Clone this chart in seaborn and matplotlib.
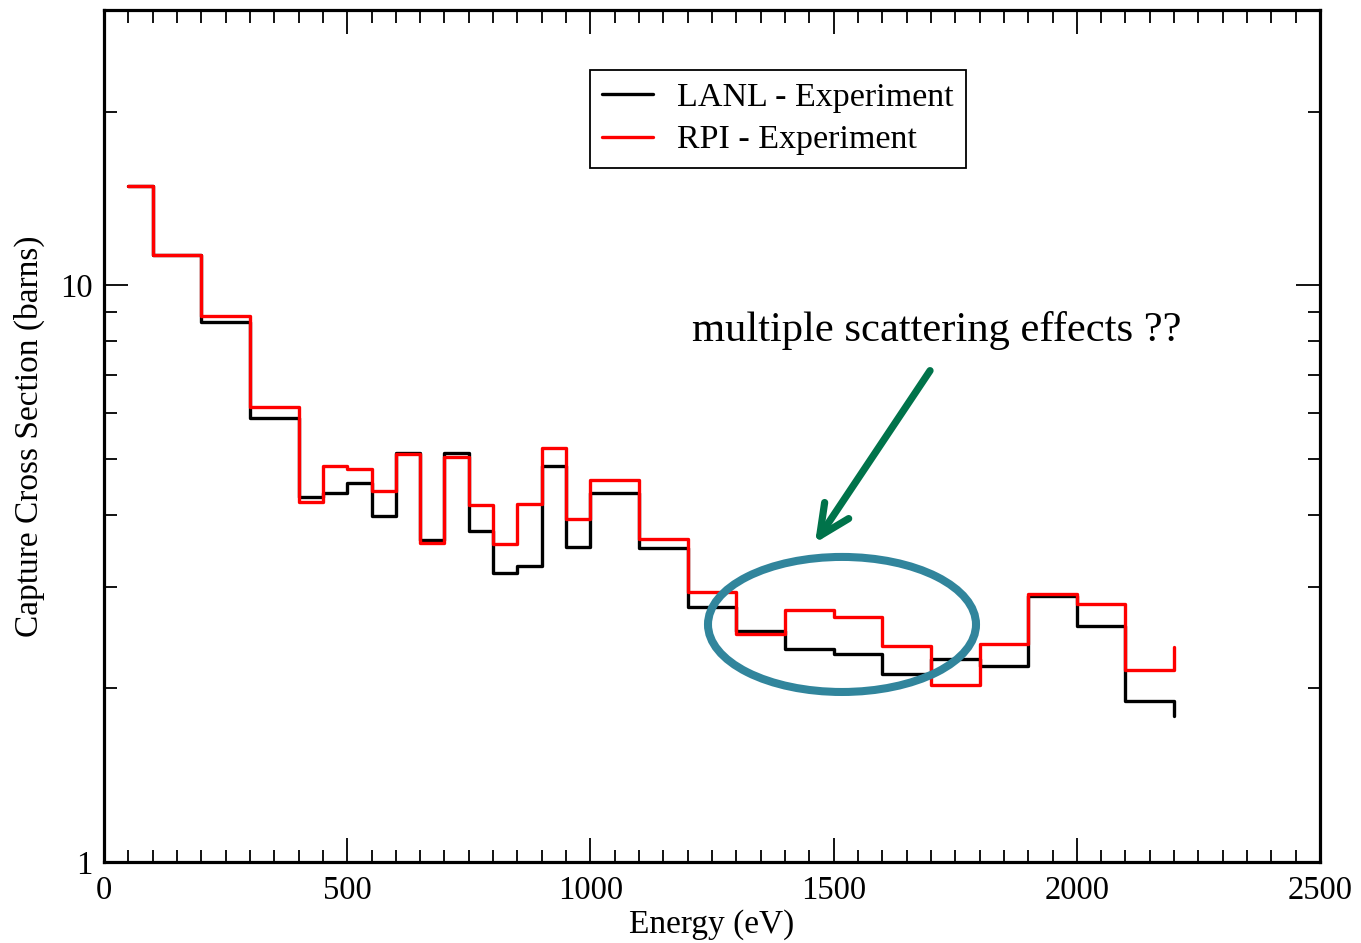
import numpy as np
import pandas as pd
import matplotlib
matplotlib.use("Agg")
import matplotlib.pyplot as plt
from matplotlib.patches import Ellipse
from matplotlib.ticker import FixedLocator, MultipleLocator, NullFormatter, FixedFormatter
import seaborn as sns

# Bin start energies (eV); the last entry closes the final bin
energy = [50, 100, 200, 300, 400, 450, 500, 550, 600, 650, 700, 750, 800, 850,
          900, 950, 1000, 1100, 1200, 1300, 1400, 1500, 1600, 1700, 1800, 1900,
          2000, 2100, 2200]

# Capture cross section (barns)
lanl = [14.85, 11.30, 8.62, 5.89, 4.29, 4.37, 4.54, 3.98, 5.12, 3.61, 5.12, 3.75,
        3.17, 3.26, 4.86, 3.52, 4.37, 3.50, 2.77, 2.51, 2.34, 2.29, 2.12, 2.25,
        2.19, 2.89, 2.57, 1.90, 1.79]
rpi = [14.85, 11.30, 8.84, 6.15, 4.21, 4.86, 4.81, 4.40, 5.09, 3.58, 5.04, 4.16,
       3.56, 4.18, 5.22, 3.93, 4.60, 3.63, 2.94, 2.48, 2.74, 2.66, 2.37, 2.03,
       2.39, 2.92, 2.80, 2.15, 2.36]

series_names = ["LANL - Experiment", "RPI - Experiment"]
series_colors = ["#000000", "#FF0000"]

x_ticks = [0, 500, 1000, 1500, 2000, 2500]
x_tick_labels = ["0", "500", "1000", "1500", "2000", "2500"]
y_ticks = [1, 10]
y_tick_labels = ["1", "10"]
y_minor = [2, 3, 4, 5, 6, 7, 8, 9, 20]

annotation_text = "multiple scattering effects ??"

df = pd.concat([
    pd.DataFrame({"Energy": energy, "Cross": lanl, "Series": series_names[0]}),
    pd.DataFrame({"Energy": energy, "Cross": rpi, "Series": series_names[1]}),
], ignore_index=True)

sns.set_theme(style="ticks")
plt.rcParams["font.family"] = ["Liberation Serif", "DejaVu Serif"]
plt.rcParams["mathtext.fontset"] = "stix"
plt.rcParams["text.color"] = "black"

fig = plt.figure(figsize=(13.61, 9.43), dpi=100)
ax = fig.add_axes([0.0764, 0.0859, 0.8935, 0.9035])

sns.lineplot(data=df, x="Energy", y="Cross", hue="Series", hue_order=series_names,
             palette=dict(zip(series_names, series_colors)), estimator=None,
             drawstyle="steps-post", linewidth=2.4, legend=False, ax=ax)

ax.set_yscale("log")
ax.set_xlim(0, 2500)
ax.set_ylim(1, 30)

ax.xaxis.set_major_locator(FixedLocator(x_ticks))
ax.xaxis.set_major_formatter(FixedFormatter(x_tick_labels))
ax.xaxis.set_minor_locator(MultipleLocator(50))
ax.yaxis.set_major_locator(FixedLocator(y_ticks))
ax.yaxis.set_major_formatter(FixedFormatter(y_tick_labels))
ax.yaxis.set_minor_locator(FixedLocator(y_minor))
ax.yaxis.set_minor_formatter(NullFormatter())

ax.tick_params(which="both", direction="in", top=True, right=True,
               color="black", labelsize=23.5, labelcolor="black")
ax.tick_params(which="major", length=17, width=1.3)
ax.tick_params(which="minor", length=9, width=1.3)
ax.tick_params(axis="x", which="major", pad=10)
ax.tick_params(axis="y", which="major", pad=8)

for s in ax.spines.values():
    s.set_linewidth(2.3)
    s.set_color("black")
    s.set_visible(True)

ax.set_xlabel("Energy (eV)", fontsize=24, color="black", labelpad=2)
ax.set_ylabel("Capture Cross Section (barns)", fontsize=24, color="black", labelpad=11)

lines = ax.get_lines()
leg = ax.legend(lines[:2], series_names, loc="upper left",
                bbox_to_anchor=(0.3997, 0.9296), borderaxespad=0,
                fontsize=24.5, frameon=True, fancybox=False, edgecolor="black",
                framealpha=1, handlelength=1.5, handletextpad=0.7,
                borderpad=0.36, labelspacing=0.34, labelcolor="black")
leg.get_frame().set_linewidth(1.3)

# Highlight region and note
ax.add_patch(Ellipse((0.6069, 0.2788), 0.2204, 0.1585, transform=ax.transAxes,
                     fill=False, edgecolor="#31859C", linewidth=5.8, zorder=5))
ax.annotate("", xy=(0.5847, 0.3744), xytext=(0.6793, 0.5767),
            xycoords="axes fraction", textcoords="axes fraction",
            arrowprops=dict(arrowstyle="->, head_length=1.1, head_width=0.52",
                            mutation_scale=20, lw=5.2, color="#00734A",
                            shrinkA=0, shrinkB=0, capstyle="round",
                            joinstyle="round"), zorder=6)
ax.text(0.4836, 0.6115, annotation_text, transform=ax.transAxes,
        fontsize=30.7, color="black", ha="left", va="baseline")

fig.savefig("out.png", dpi=100, facecolor="white")
